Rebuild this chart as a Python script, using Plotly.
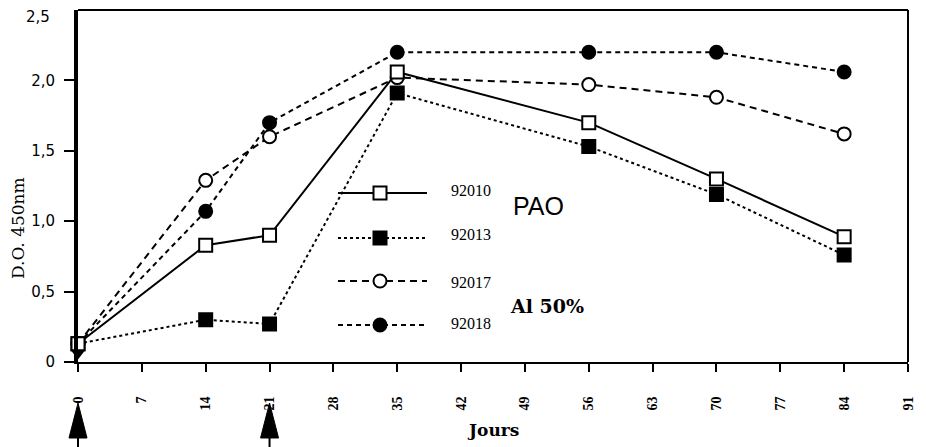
import plotly.graph_objects as go

# ---- data ----
days = [0, 14, 21, 35, 56, 70, 84]
s92010 = [0.13, 0.83, 0.90, 2.06, 1.70, 1.30, 0.89]
s92013 = [0.13, 0.30, 0.27, 1.91, 1.53, 1.19, 0.76]
s92017 = [0.13, 1.29, 1.60, 2.02, 1.97, 1.88, 1.62]
s92018 = [0.13, 1.07, 1.70, 2.20, 2.20, 2.20, 2.06]
start_days = [0]
start_vals = [0.06]
arrow_days = [0, 21]
x_ticks = list(range(0, 92, 7))
y_ticks = [0, 0.5, 1.0, 1.5, 2.0, 2.5]
y_ticktext = ["0", "0,5", "1,0", "1,5", "2,0", "2,5"]
series_names = ["92010", "92013", "92017", "92018"]

OFF = 8  # browser body margin
W, H = 926 - OFF, 447 - OFF
L, R, T, B = 78 - OFF, 18, 10 - OFF, 85
PW, PH = W - L - R, H - T - B
XMAX = 91
MSIZE = 13


def px2paper(px, py):
    # px, py: window pixel coordinates
    fx, fy = px - OFF, py - OFF
    return (fx - L) / PW, (H - B - fy) / PH


def label(px, py, text, font, xanchor="center", angle=0):
    xp, yp = px2paper(px, py)
    fig.add_annotation(x=xp, y=yp, xref="paper", yref="paper", text=text, showarrow=False,
                       xanchor=xanchor, yanchor="middle", textangle=angle, font=font)


styles = {
    "92010": dict(dash="solid", symbol="square", filled=False),
    "92013": dict(dash="dot", symbol="square", filled=True),
    "92017": dict(dash="7px,5px", symbol="circle", filled=False),
    "92018": dict(dash="5px,4px", symbol="circle", filled=True),
}
values = {"92010": s92010, "92013": s92013, "92017": s92017, "92018": s92018}

fig = go.Figure()
for name in ["92018", "92017", "92013", "92010"]:
    st = styles[name]
    fig.add_trace(go.Scatter(
        x=days, y=values[name], mode="lines+markers", name=name,
        line=dict(color="black", width=2, dash=st["dash"]),
        marker=dict(symbol=st["symbol"], size=MSIZE,
                    color="black" if st["filled"] else "white",
                    line=dict(color="black", width=2)),
        cliponaxis=False, showlegend=False,
    ))

fig.add_trace(go.Scatter(
    x=start_days, y=start_vals, mode="markers",
    marker=dict(symbol="triangle-down", size=12, color="black"),
    cliponaxis=False, showlegend=False,
))

# ---- custom legend (pixel overlay axes, window coords) ----
leg_rows = [193, 238, 281, 325]
leg_text_y = [190, 234, 282, 323]
serif = dict(family="Liberation Serif", size=16, color="black")
for name, ry, ty in zip(series_names, leg_rows, leg_text_y):
    st = styles[name]
    fig.add_trace(go.Scatter(
        x=[338, 427], y=[ry, ry], xaxis="x2", yaxis="y2", mode="lines",
        line=dict(color="black", width=2, dash=st["dash"]), showlegend=False,
        hoverinfo="skip"))
    fig.add_trace(go.Scatter(
        x=[380], y=[ry], xaxis="x2", yaxis="y2", mode="markers",
        marker=dict(symbol=st["symbol"], size=MSIZE,
                    color="black" if st["filled"] else "white",
                    line=dict(color="black", width=2)),
        showlegend=False, hoverinfo="skip"))
    label(471, ty, name, serif)

label(538, 206, "PAO", dict(family="Liberation Sans", size=25, color="black"))
label(547, 306, "<b>Al 50%</b>", dict(family="DejaVu Serif", size=19, color="black"))
label(18, 228, "D.O. 450nm", dict(family="DejaVu Serif", size=17, color="black"), angle=-90)
label(493, 430, "<b>Jours</b>", dict(family="DejaVu Serif", size=17, color="black"))
# top y label (would be cut at the figure edge as a tick label)
label(52, 17, y_ticktext[-1], dict(family="DejaVu Sans", size=15, color="black"), xanchor="right")

shapes = []
# frame top & right
shapes.append(dict(type="line", xref="paper", yref="paper", x0=0, x1=1, y0=1, y1=1,
                   line=dict(color="black", width=2)))
shapes.append(dict(type="line", xref="paper", yref="paper", x0=1, x1=1, y0=0, y1=1,
                   line=dict(color="black", width=2)))
# arrows under axis
for d in arrow_days:
    px = 78 + d * PW / XMAX
    tx, ty = px2paper(px, 403)
    b1x, by = px2paper(px - 9, 438)
    b2x, _ = px2paper(px + 9, 438)
    _, ey = px2paper(px, 450)
    shapes.append(dict(type="path", xref="paper", yref="paper",
                       path=f"M {tx} {ty} L {b1x} {by} L {b2x} {by} Z",
                       fillcolor="black", line=dict(color="black", width=1)))
    shapes.append(dict(type="line", xref="paper", yref="paper", x0=tx, x1=tx, y0=by, y1=ey,
                       line=dict(color="black", width=2)))

fig.update_layout(
    width=W, height=H, margin=dict(l=L, r=R, t=T, b=B),
    paper_bgcolor="white", plot_bgcolor="white",
    shapes=shapes,
    xaxis=dict(range=[0, XMAX], tickvals=x_ticks, ticktext=[str(t) for t in x_ticks],
               tickangle=-90, ticks="outside", ticklen=8, tickwidth=2, tickcolor="black",
               showline=True, linecolor="black", linewidth=2, showgrid=False, zeroline=False,
               ticklabelstandoff=19,
               tickfont=dict(family="Liberation Serif", size=14, color="black", weight="bold")),
    yaxis=dict(range=[0, 2.5], tickvals=y_ticks[:-1], ticktext=y_ticktext[:-1],
               ticks="outside", ticklen=10, tickwidth=2, tickcolor="black",
               showline=True, linecolor="black", linewidth=4, showgrid=False, zeroline=False,
               ticklabelstandoff=6,
               tickfont=dict(family="DejaVu Sans", size=15, color="black")),
    xaxis2=dict(range=[78, 908], overlaying="x", visible=False),
    yaxis2=dict(range=[362, 10], overlaying="y", visible=False),
)

fig.write_html("out.html")
